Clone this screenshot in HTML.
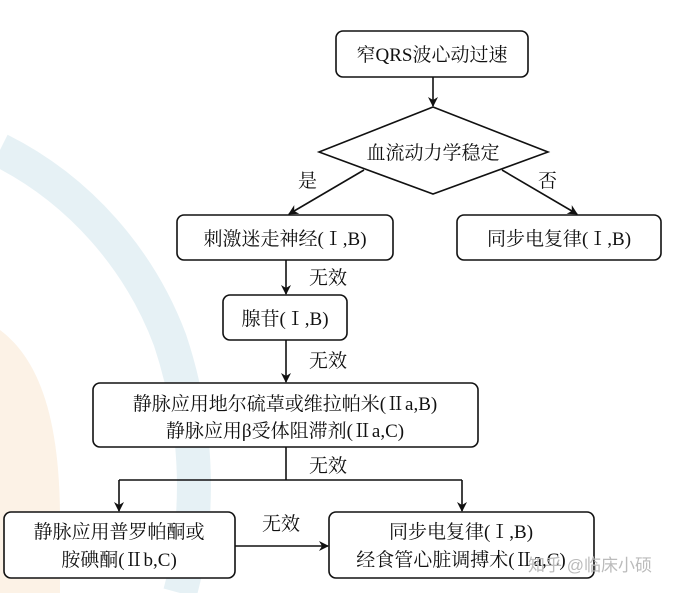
<!DOCTYPE html>
<html><head><meta charset="utf-8"><style>
body{margin:0;background:#fff}
svg text{font-family:"Liberation Serif","Noto Serif CJK SC",serif;font-size:19px;fill:#111}
</style></head><body>
<svg width="693" height="593" viewBox="0 0 693 593" xmlns="http://www.w3.org/2000/svg">
<defs><marker id="a" markerWidth="10" markerHeight="10" refX="9" refY="5" orient="auto" markerUnits="userSpaceOnUse"><path d="M0,0 L10,5 L0,10 L3,5 Z" fill="#111"/></marker></defs>
<path d="M0,150 C80,190 140,260 170,340 C200,430 200,520 180,593" stroke="#e6f1f5" stroke-width="34" fill="none"/>
<path d="M0,330 C40,360 60,420 60,520 L60,593 L0,593 Z" fill="#fcf2e6"/>
<g fill="none" stroke="#111" stroke-width="1.6">
<rect x="336" y="31" width="192" height="46" rx="7" fill="#fff"/>
<polygon points="319,152 433,107 548,152 433,194" fill="#fff"/>
<rect x="177" y="215" width="216" height="45" rx="7" fill="#fff"/>
<rect x="457" y="215" width="204" height="45" rx="7" fill="#fff"/>
<rect x="223" y="295" width="124" height="45" rx="7" fill="#fff"/>
<rect x="93" y="383" width="385" height="64" rx="7" fill="#fff"/>
<rect x="4" y="512" width="231" height="66" rx="7" fill="#fff"/>
<rect x="329" y="512" width="265" height="66" rx="7" fill="#fff"/>
<line x1="433" y1="77" x2="433" y2="106" marker-end="url(#a)"/>
<line x1="364" y1="170" x2="289" y2="214" marker-end="url(#a)"/>
<line x1="502" y1="170" x2="577" y2="214" marker-end="url(#a)"/>
<line x1="286" y1="260" x2="286" y2="294" marker-end="url(#a)"/>
<line x1="286" y1="340" x2="286" y2="382" marker-end="url(#a)"/>
<polyline points="286,447 286,480"/>
<polyline points="119,480 462,480"/>
<line x1="119" y1="480" x2="119" y2="511" marker-end="url(#a)"/>
<line x1="462" y1="480" x2="462" y2="511" marker-end="url(#a)"/>
<line x1="235" y1="546" x2="328" y2="546" marker-end="url(#a)"/>
</g>
<g text-anchor="middle">
<text x="432" y="61">窄QRS波心动过速</text>
<text x="433" y="159">血流动力学稳定</text>
<text x="285" y="245">刺激迷走神经(Ⅰ,B)</text>
<text x="559" y="245">同步电复律(Ⅰ,B)</text>
<text x="285" y="325">腺苷(Ⅰ,B)</text>
<text x="285" y="410">静脉应用地尔硫䓬或维拉帕米(Ⅱa,B)</text>
<text x="285" y="437">静脉应用β受体阻滞剂(Ⅱa,C)</text>
<text x="119" y="538">静脉应用普罗帕酮或</text>
<text x="119" y="566">胺碘酮(Ⅱb,C)</text>
<text x="461" y="538">同步电复律(Ⅰ,B)</text>
<text x="461" y="566">经食管心脏调搏术(Ⅱa,C)</text>
</g>
<text x="298" y="187">是</text>
<text x="538" y="187">否</text>
<text x="309" y="284">无效</text>
<text x="309" y="367">无效</text>
<text x="309" y="472">无效</text>
<text x="262" y="530">无效</text>
<text x="528" y="571" style="font-family:'Liberation Sans','Noto Sans CJK SC',sans-serif;font-size:17px;fill:#bbb">知乎 @临床小硕</text>
</svg>
</body></html>
